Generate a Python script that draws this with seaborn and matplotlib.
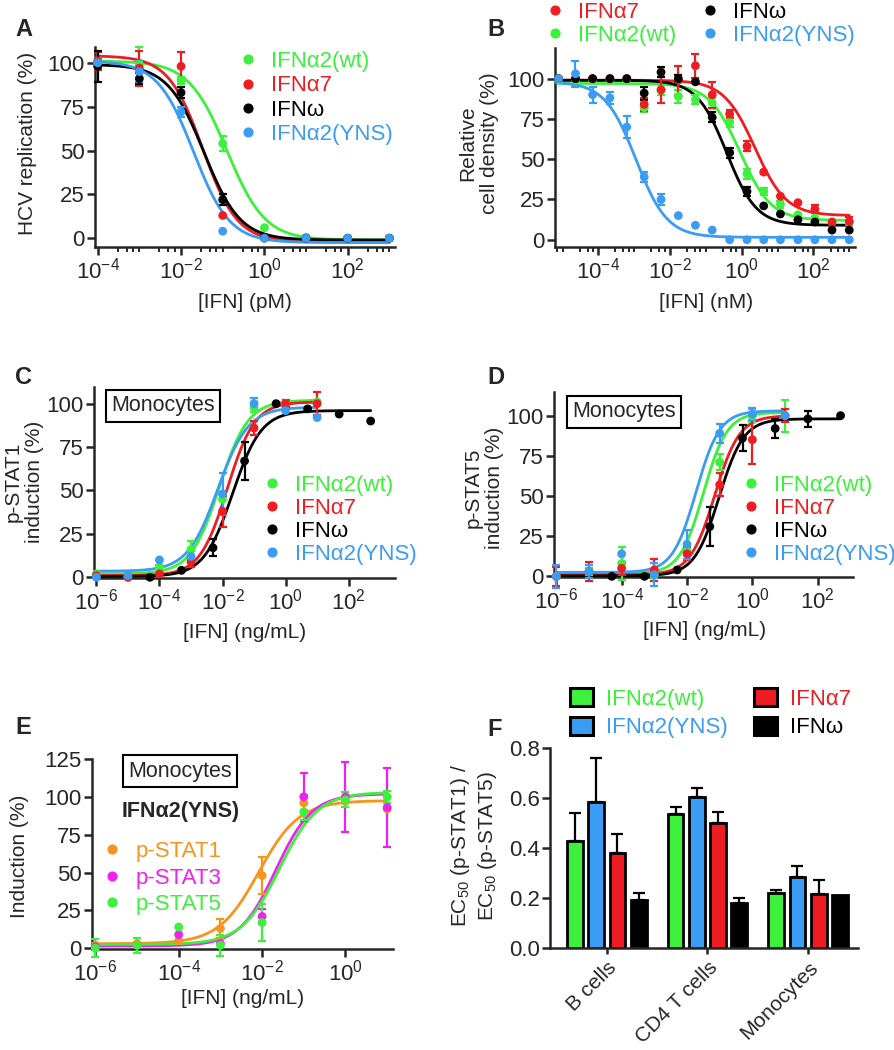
import numpy as np
import pandas as pd
import seaborn as sns
import matplotlib.pyplot as plt
from matplotlib.lines import Line2D
from matplotlib.patches import Patch
from matplotlib.ticker import FuncFormatter, LogLocator, NullLocator, NullFormatter

sns.set_style('ticks')
plt.rcParams['font.family'] = ['Liberation Sans', 'DejaVu Sans']
plt.rcParams['mathtext.fontset'] = 'custom'
plt.rcParams['mathtext.rm'] = 'Liberation Sans'
plt.rcParams['mathtext.it'] = 'Liberation Sans:italic'
plt.rcParams['mathtext.bf'] = 'Liberation Sans:bold'

GREEN = '#3cf03c'
RED = '#ee1d23'
BLACK = '#000000'
BLUE = '#3a9cf2'
ORANGE = '#f7941e'
MAGENTA = '#ee22ee'

IFN_NAMES = ['IFNα2(wt)', 'IFNα7', 'IFNω', 'IFNα2(YNS)']
IFN_COLORS = [GREEN, RED, BLACK, BLUE]

# ---- A: HCV replication, dose in pM
a_dose = [1e-4, 1e-3, 1e-2, 1e-1, 1, 10, 100, 1000]
a_wt = [100, 99, 90, 54, 6, 0.5, 0, 0]
a_wt_err = [3, 10, 2, 4, 0, 0, 0, 0]
a_a7 = [101, 97, 98, 13, 0, 0, 0, 0]
a_a7_err = [5, 10, 8, 0, 0, 0, 0, 0]
a_omega = [98, 91, 83, 22, 0.5, 0, 0, 0]
a_omega_err = [9, 3, 3, 3, 0, 0, 0, 0]
a_yns = [100, 95, 72, 4, 0, 0, 0, 0]
a_yns_err = [3, 6, 3, 0, 0, 0, 0, 0]
# fitted curves: (logEC50, hill, bottom, top)
a_fits = [(-0.9, 0.95, -1, 101), (-1.48, 1.05, -2, 104), (-1.45, 1.0, -1, 99), (-1.7, 1.0, -2.5, 101)]

# ---- B: relative cell density, dose in nM (3-fold dilutions)
b_dose = [7.7e-6, 2.3e-5, 6.9e-5, 2.1e-4, 6.2e-4, 1.9e-3, 5.6e-3, 1.7e-2, 5.1e-2,
          0.15, 0.46, 1.4, 4.1, 12, 37, 110, 330, 1000]
b_wt = [99, 99, 99, 99, 99, 82, 93, 89, 87, 85, 73, 41, 30, 22, 15.5, 13.5, 11, 10.8]
b_wt_err = [0, 0, 0, 0, 0, 3, 3, 4, 3, 3, 3, 3, 2, 2, 0, 0, 0, 0]
b_a7 = [100, 100, 100, 100, 100, 84, 93, 99, 108, 90, 78, 58, 42, 27, 23, 19, 11, 11.4]
b_a7_err = [0, 0, 0, 0, 0, 4, 8, 9, 7.5, 8, 2.5, 3, 0, 0, 0, 2.5, 0, 2.5]
b_omega = [100, 100, 100, 100, 100, 91, 104, 100, 98, 76, 54, 30, 21, 16, 12.4, 11, 6, 6]
b_omega_err = [0, 0, 0, 0, 0, 4, 3, 2, 0, 3, 3, 3, 0, 0, 0, 0, 0, 0]
b_yns = [100, 103, 90, 88, 70, 39, 25, 15, 9, 6, 0, 0, 0, 0, 0, 0, 0, 0]
b_yns_err = [0, 8, 5, 4, 7, 3, 3.5, 0, 0, 0, 0, 0, 0, 0, 0, 0, 0, 0]
b_fits = [(-0.05, 1.0, 12, 97), (0.37, 1.0, 15, 99), (-0.42, 1.05, 9, 99), (-2.95, 1.0, 1.5, 98)]

# ---- C: p-STAT1 induction in monocytes, dose in ng/mL
c_dose = [1e-6, 1e-5, 1e-4, 1e-3, 1e-2, 1e-1, 1, 10]
c_dose_omega = [5e-5, 5e-4, 5e-3, 5e-2, 5e-1, 5, 50, 500]
c_wt = [2, 0, 6, 16, 45, 98, 100, 101]
c_wt_err = [0, 0, 1, 5, 0, 3, 0, 0]
c_a7 = [1, 0, 2, 9, 38, 86, 100, 100]
c_a7_err = [0, 0, 0, 3, 9, 4, 2, 6.5]
c_omega = [0, 4, 17, 67, 100, 97, 94, 90]
c_omega_err = [0, 0, 5, 11, 0, 0, 0, 0]
c_yns = [0, 1, 10, 12, 48, 100, 96, 92]
c_yns_err = [0, 0, 0, 3, 12, 3, 0, 0]
c_fits = [(-2.1, 0.95, 2, 102), (-1.85, 1.0, 1, 101), (-1.68, 0.95, 0.5, 96), (-2.15, 0.9, 3.5, 98)]

# ---- D: p-STAT5 induction in monocytes
d_dose = [1e-6, 1e-5, 1e-4, 1e-3, 1e-2, 1e-1, 1, 10]
d_dose_omega = [5e-5, 5e-4, 5e-3, 5e-2, 5e-1, 5, 50, 500]
d_wt = [0, 3, 8, 1, 16, 71, 100, 100]
d_wt_err = [0, 2, 10, 2, 3, 5, 4, 10]
d_a7 = [0, 3, 5, 4, 14, 57, 85, 100]
d_a7_err = [6, 6, 4, 7, 4, 7, 15, 4]
d_omega = [0, 0, 4, 31, 86, 92, 98, 100]
d_omega_err = [0, 0, 0, 12, 8, 6, 5, 0]
d_yns = [0, 3, 14, 1, 20, 89, 101, 100]
d_yns_err = [7, 4, 0, 7, 9, 6, 4, 0]
d_fits = [(-1.5, 1.2, 1.5, 102), (-1.15, 1.15, 1, 100), (-1.02, 1.15, 0.3, 98), (-1.72, 1.2, 2.5, 103)]

# ---- E: IFNa2(YNS) in monocytes, three STATs
STAT_NAMES = ['p-STAT1', 'p-STAT3', 'p-STAT5']
STAT_COLORS = [ORANGE, MAGENTA, GREEN]
e_dose = [1e-6, 1e-5, 1e-4, 1e-3, 1e-2, 1e-1, 1, 10]
e_stat1 = [2, 3, 5, 13, 48, 96, 97, 92]
e_stat1_err = [0, 0, 0, 6, 12, 5, 0, 0]
e_stat3 = [1, 2, 9, 3, 21, 100, 100, 93]
e_stat3_err = [0, 0, 0, 0, 5, 16, 23, 26]
e_stat5 = [0, 2, 14, 2, 17, 90, 98, 100]
e_stat5_err = [6, 5, 0, 7, 12, 5, 5, 4]
e_fits = [(-2.08, 0.9, 3, 97.5), (-1.67, 1.0, 1.5, 102), (-1.58, 0.95, 2.5, 103)]

# ---- F: EC50 ratio
f_cells = ['B cells', 'CD4 T cells', 'Monocytes']
f_order = ['IFNα2(wt)', 'IFNα2(YNS)', 'IFNα7', 'IFNω']
f_colors = [GREEN, BLUE, RED, BLACK]
f_wt = [0.43, 0.535, 0.22]
f_wt_err = [0.11, 0.03, 0.012]
f_yns = [0.585, 0.605, 0.285]
f_yns_err = [0.176, 0.034, 0.042]
f_a7 = [0.38, 0.50, 0.218]
f_a7_err = [0.076, 0.045, 0.054]
f_omega = [0.193, 0.179, 0.213]
f_omega_err = [0.026, 0.021, 0.0]

W, H = 895, 1050
fig = plt.figure(figsize=(W / 100, H / 100), dpi=100)

FS = 15      # axis labels
TFS = 16     # tick labels
LFS = 16     # legends
LW = 1.8


def make_ax(box):
    l, t, r, b = box
    return fig.add_axes([l / W, 1 - b / H, (r - l) / W, (b - t) / H])


def to_axes(box, px, py):
    l, t, r, b = box
    return (px - l) / (r - l), (b - py) / (b - t)


def to_fig(px, py):
    return px / W, 1 - py / H


def logistic(x, fit, falling):
    logec, hill, bottom, top = fit
    s = -1 if falling else 1
    return bottom + (top - bottom) / (1 + 10 ** (s * (logec - np.log10(x)) * hill))


def style(ax):
    sns.despine(ax=ax)
    for sp in ax.spines.values():
        sp.set_linewidth(LW)
    ax.tick_params(which='major', length=6, width=LW, labelsize=TFS, pad=1.5)
    ax.tick_params(which='minor', length=3.5, width=1.4)


def dose_panel(ax, box, doses, vals, errs, fits, colors, falling, xlim, ylim, xticks, yticks, minor):
    lo = min(min(d) for d in doses)
    for d, v, e, fit, c in zip(doses, vals, errs, fits, colors):
        d, v, e = np.array(d), np.array(v, float), np.array(e, float)
        xx = np.logspace(np.log10(lo), np.log10(d.max()), 300)
        sns.lineplot(x=xx, y=logistic(xx, fit, falling), color=c, lw=2.0, estimator=None, ax=ax, zorder=3)
        m = e > 0
        ax.errorbar(d[m], v[m], yerr=e[m], fmt='none', ecolor=c, elinewidth=1.6,
                    capsize=2.8, capthick=1.6, clip_on=False, zorder=4)
        sns.scatterplot(x=d, y=v, color=c, s=40, edgecolor='none', ax=ax, clip_on=False, zorder=5)
    ax.set_xscale('log')
    ax.set_xlim(10 ** xlim[0], 10 ** xlim[1])
    ax.set_ylim(*ylim)
    ax.set_xticks(xticks)
    ax.xaxis.set_major_formatter(FuncFormatter(lambda v, p: r'$\mathdefault{10^{%d}}$' % round(np.log10(v))))
    if minor:
        ax.xaxis.set_minor_locator(LogLocator(base=10, subs=(1.0, 3.0, 5.0, 7.0), numticks=60))
    else:
        ax.xaxis.set_minor_locator(NullLocator())
    ax.xaxis.set_minor_formatter(NullFormatter())
    ax.set_yticks(yticks)
    ax.set_yticklabels([str(t) for t in yticks])
    style(ax)


def labels(ax, box, xlabel, xpos, ylabel, ypos):
    if xlabel:
        ax.set_xlabel(xlabel, fontsize=FS, va='center')
        ax.xaxis.set_label_coords(*to_axes(box, *xpos))
    else:
        ax.set_xlabel('')
    ax.set_ylabel(ylabel, fontsize=FS, va='center', ha='center', multialignment='center')
    ax.yaxis.set_label_coords(*to_axes(box, *ypos))


def dot_legend(ax, names, colors, anchor, ncol=1, spacing=0.1, colspacing=1.0):
    handles = [Line2D([], [], ls='none', marker='o', ms=6.3, mfc=c, mec=c) for c in colors]
    leg = ax.legend(handles, names, loc='upper left', bbox_to_anchor=to_fig(*anchor),
                    bbox_transform=fig.transFigure, ncol=ncol, frameon=False, fontsize=LFS,
                    handlelength=0.8, handletextpad=0.65, labelspacing=spacing,
                    columnspacing=colspacing, borderpad=0, borderaxespad=0)
    for t, c in zip(leg.get_texts(), colors):
        t.set_color(c)
    return leg


def box_text(px, py, s):
    fig.text(*to_fig(px, py), s, fontsize=FS + 0.5, ha='center', va='center',
             bbox=dict(boxstyle='square,pad=0.25', fc='white', ec='black', lw=1.5))


# ---------------- A
box_a = (95, 47, 395, 247)
ax = make_ax(box_a)
dose_panel(ax, box_a, [a_dose] * 4, [a_wt, a_a7, a_omega, a_yns],
           [a_wt_err, a_a7_err, a_omega_err, a_yns_err], a_fits, IFN_COLORS, True,
           (-4.065, 3.135), (-5, 109), [1e-4, 1e-2, 1, 1e2], [0, 25, 50, 75, 100], True)
labels(ax, box_a, '[IFN] (pM)', (245, 302), 'HCV replication (%)', (28, 143))
dot_legend(ax, IFN_NAMES, IFN_COLORS, (239, 51), spacing=0.15)

# ---------------- B
box_b = (555, 48, 855, 247)
ax = make_ax(box_b)
dose_panel(ax, box_b, [b_dose] * 4, [b_wt, b_a7, b_omega, b_yns],
           [b_wt_err, b_a7_err, b_omega_err, b_yns_err], b_fits, IFN_COLORS, True,
           (-5.21, 3.16), (-4.5, 119), [1e-4, 1e-2, 1, 1e2], [0, 25, 50, 75, 100], True)
labels(ax, box_b, '[IFN] (nM)', (706, 302), 'Relative\ncell density (%)', (479, 143))
dot_legend(ax, ['IFNα7', 'IFNα2(wt)', 'IFNω', 'IFNα2(YNS)'], [RED, GREEN, BLACK, BLUE],
           (546, 2), ncol=2, spacing=0.09, colspacing=1.1)

# ---------------- C
box_c = (94, 387, 395, 578)
ax = make_ax(box_c)
dose_panel(ax, box_c, [c_dose, c_dose, c_dose_omega, c_dose], [c_wt, c_a7, c_omega, c_yns],
           [c_wt_err, c_a7_err, c_omega_err, c_yns_err], c_fits, IFN_COLORS, False,
           (-6.075, 3.47), (-0.4, 109.6), [1e-6, 1e-4, 1e-2, 1, 1e2], [0, 25, 50, 75, 100], False)
labels(ax, box_c, '[IFN] (ng/mL)', (245, 632), 'p-STAT1\ninduction (%)', (24, 482))
dot_legend(ax, IFN_NAMES, IFN_COLORS, (263, 475), spacing=0.09)
box_text(163, 406, 'Monocytes')

# ---------------- D
box_d = (554, 392, 853, 577)
ax = make_ax(box_d)
dose_panel(ax, box_d, [d_dose, d_dose, d_dose_omega, d_dose], [d_wt, d_a7, d_omega, d_yns],
           [d_wt_err, d_a7_err, d_omega_err, d_yns_err], d_fits, IFN_COLORS, False,
           (-6.07, 3.08), (-0.4, 114.7), [1e-6, 1e-4, 1e-2, 1, 1e2], [0, 25, 50, 75, 100], False)
labels(ax, box_d, '[IFN] (ng/mL)', (705, 630), 'p-STAT5\ninduction (%)', (484, 488))
dot_legend(ax, IFN_NAMES, IFN_COLORS, (742, 475), spacing=0.09)
box_text(624, 412, 'Monocytes')

# ---------------- E
box_e = (92, 759, 393, 949)
ax = make_ax(box_e)
dose_panel(ax, box_e, [e_dose] * 3, [e_stat1, e_stat3, e_stat5],
           [e_stat1_err, e_stat3_err, e_stat5_err], e_fits, STAT_COLORS, False,
           (-6.08, 1.14), (-0.5, 125), [1e-6, 1e-4, 1e-2, 1], [0, 25, 50, 75, 100, 125], False)
labels(ax, box_e, '[IFN] (ng/mL)', (243, 999), 'Induction (%)', (20, 856))
dot_legend(ax, STAT_NAMES, STAT_COLORS, (103, 841), spacing=0.25)
box_text(180, 771, 'Monocytes')
fig.text(*to_fig(122, 811), 'IFNα2(YNS)', fontsize=FS + 0.5, fontweight='bold', ha='left', va='center')

# ---------------- F
box_f = (550, 748, 858, 948)
ax = make_ax(box_f)
df = pd.DataFrame({'cell': f_cells * 4,
                   'ifn': np.repeat(f_order, len(f_cells)),
                   'ratio': np.concatenate([f_wt, f_yns, f_a7, f_omega])})
sns.barplot(data=df, x='cell', y='ratio', hue='ifn', order=f_cells, hue_order=f_order,
            palette=f_colors, saturation=1, width=0.845, gap=0.26, edgecolor='black',
            linewidth=2.0, errorbar=None, legend=False, ax=ax)
for cont, errs in zip(ax.containers, [f_wt_err, f_yns_err, f_a7_err, f_omega_err]):
    for bar, e in zip(cont, errs):
        if e > 0:
            ax.errorbar(bar.get_x() + bar.get_width() / 2, bar.get_height(), yerr=[[0], [e]],
                        fmt='none', ecolor='black', elinewidth=1.6, capsize=4, capthick=1.6, zorder=1)
ax.set_xlim(-0.565, 2.496)
ax.set_ylim(0, 0.8)
ax.set_yticks([0, 0.2, 0.4, 0.6, 0.8])
ax.set_yticklabels(['%.1f' % t for t in [0, 0.2, 0.4, 0.6, 0.8]])
style(ax)
ax.tick_params(axis='x', length=4, pad=3, labelsize=15)
ax.set_xticks(range(len(f_cells)))
ax.set_xticklabels(f_cells, rotation=45, ha='right', rotation_mode='anchor')
labels(ax, box_f, None, None, 'EC$_{50}$ (p-STAT1) /\nEC$_{50}$ (p-STAT5)', (474, 846))
handles = [Patch(fc=c, ec='black', lw=2.2) for c in f_colors]
leg = ax.legend(handles, f_order, loc='upper left', bbox_to_anchor=to_fig(570, 688),
                bbox_transform=fig.transFigure, ncol=2, frameon=False, fontsize=LFS,
                handlelength=1.05, handleheight=0.9, handletextpad=0.55, labelspacing=0.3,
                columnspacing=1.2, borderpad=0, borderaxespad=0)
for t, c in zip(leg.get_texts(), f_colors):
    t.set_color(c)

# panel letters
for letter, (px, py) in zip('ABCDEF', [(15, 36), (487, 36), (15, 384), (487, 384), (15, 734), (487, 736)]):
    fig.text(*to_fig(px, py), letter, fontsize=17, fontweight='bold', ha='left', va='baseline')

fig.savefig('out.png', dpi=100)
